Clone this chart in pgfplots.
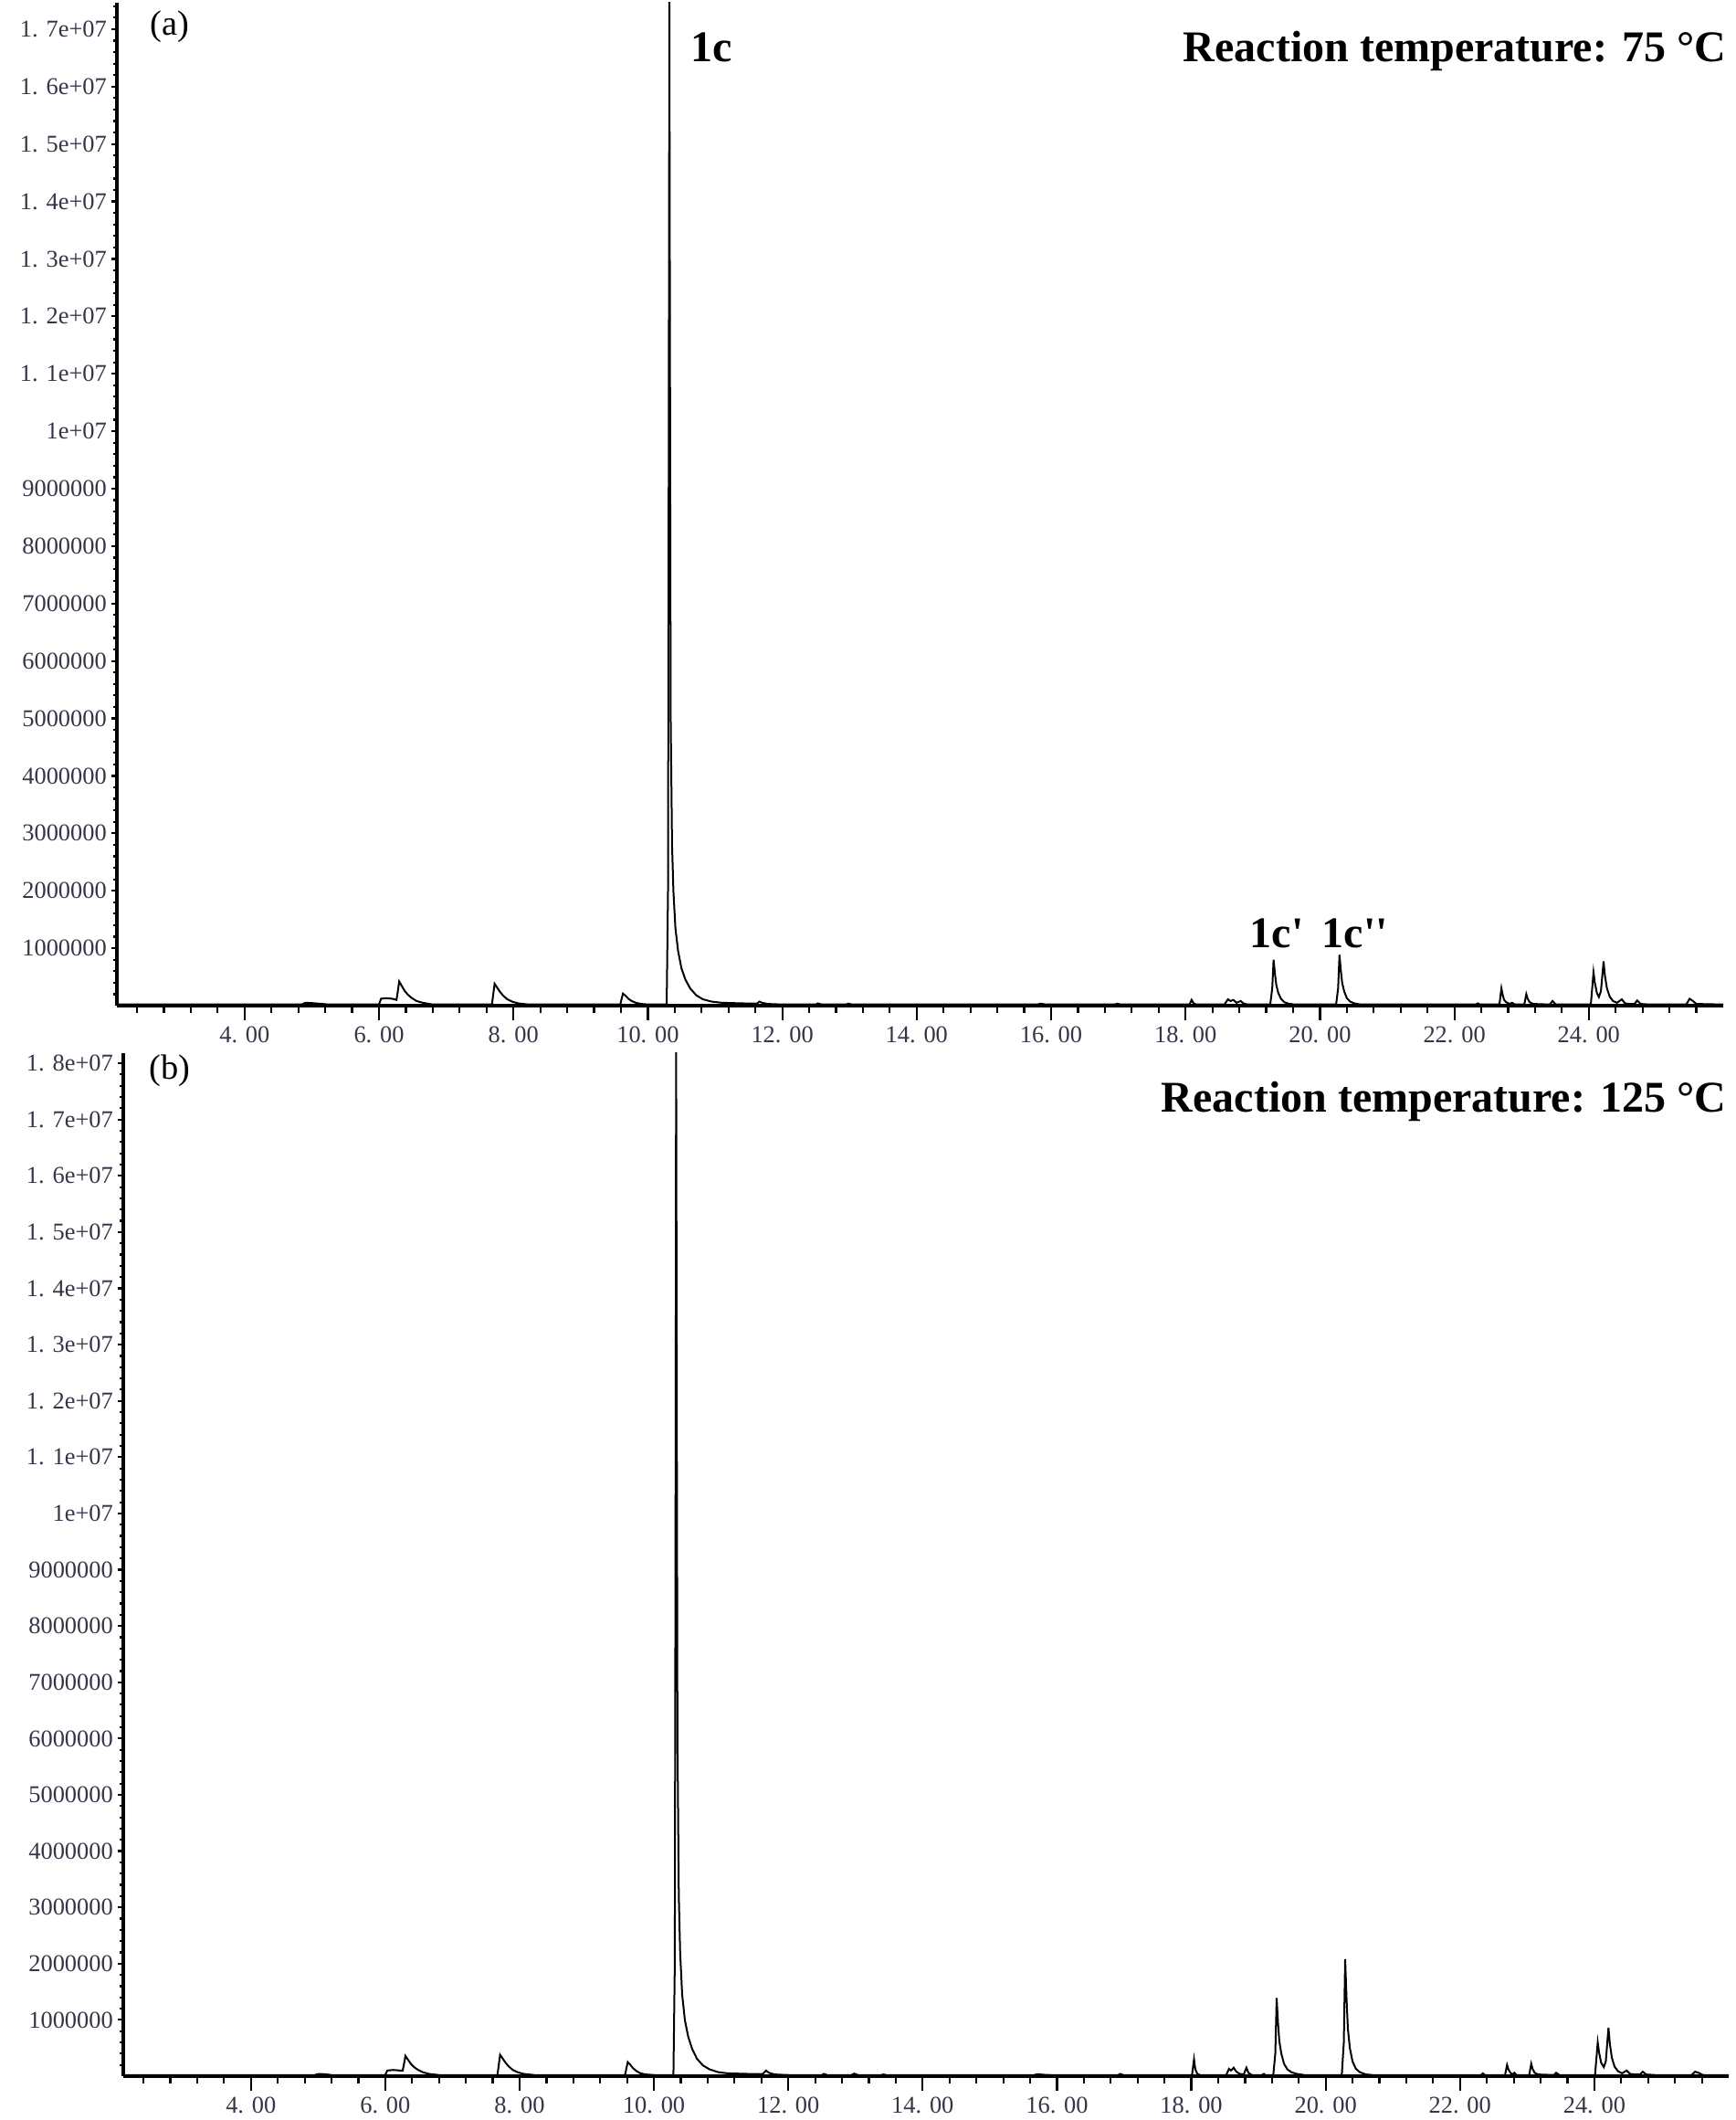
\documentclass[border=0pt]{standalone}
\usepackage{pgfplots}
\pgfplotsset{compat=1.18}
\usepackage{fontspec}
\setmainfont{Liberation Serif}
\definecolor{tickcol}{rgb}{0.22,0.2,0.28}
\newcommand{\tickfont}{\fontsize{6.6}{7.5}\selectfont}
\newcommand{\bigbf}{\bfseries\fontsize{12}{14}\selectfont}
\newcommand{\panelfont}{\fontsize{9.6}{11}\selectfont}

\pgfplotstableread{
x y
2.10 0.02
3.00 0.02
4.00 0.02
4.85 0.02
4.90 0.05
5.00 0.045
5.10 0.035
5.25 0.02
6.00 0.02
6.03 0.12
6.10 0.13
6.20 0.12
6.26 0.10
6.28 0.25
6.30 0.42
6.34 0.34
6.38 0.26
6.43 0.19
6.49 0.13
6.56 0.08
6.65 0.05
6.80 0.02
7.68 0.02
7.70 0.20
7.72 0.38
7.76 0.31
7.80 0.24
7.85 0.17
7.91 0.11
7.98 0.07
8.07 0.04
8.22 0.02
9.59 0.02
9.61 0.12
9.63 0.21
9.67 0.17
9.71 0.12
9.76 0.08
9.82 0.05
9.90 0.03
10.00 0.02
10.28 0.02
10.30 2.0
10.31 9.0
10.32 17.6
10.33 11.0
10.34 5.0
10.36 2.8
10.38 2.0
10.41 1.35
10.45 0.95
10.50 0.65
10.56 0.45
10.63 0.30
10.72 0.18
10.82 0.11
10.95 0.07
11.10 0.05
11.40 0.04
11.62 0.035
11.66 0.07
11.70 0.05
11.78 0.03
12.00 0.02
12.50 0.02
12.53 0.04
12.58 0.02
12.95 0.02
12.98 0.035
13.04 0.02
15.80 0.02
15.84 0.035
15.92 0.02
16.95 0.02
16.98 0.035
17.03 0.02
18.06 0.02
18.09 0.10
18.12 0.04
18.16 0.02
18.58 0.02
18.63 0.11
18.67 0.08
18.71 0.10
18.76 0.05
18.82 0.08
18.86 0.04
18.92 0.02
19.26 0.02
19.29 0.30
19.31 0.80
19.33 0.56
19.35 0.36
19.38 0.22
19.42 0.12
19.47 0.06
19.53 0.035
19.62 0.02
20.24 0.02
20.27 0.30
20.29 0.885
20.31 0.62
20.33 0.40
20.36 0.25
20.40 0.13
20.45 0.07
20.51 0.04
20.60 0.02
22.32 0.02
22.35 0.04
22.38 0.02
22.67 0.02
22.70 0.30
22.72 0.18
22.74 0.10
22.77 0.06
22.82 0.03
22.86 0.05
22.90 0.02
23.04 0.02
23.07 0.20
23.09 0.12
23.12 0.06
23.17 0.03
23.42 0.02
23.46 0.08
23.51 0.02
24.03 0.02
24.07 0.58
24.09 0.40
24.12 0.22
24.15 0.15
24.18 0.25
24.22 0.77
24.24 0.52
24.27 0.30
24.31 0.16
24.36 0.08
24.42 0.05
24.49 0.11
24.54 0.04
24.60 0.03
24.68 0.03
24.72 0.09
24.77 0.03
24.90 0.02
25.45 0.02
25.50 0.12
25.55 0.08
25.60 0.03
26.00 0.02
}\dataA

\pgfplotstableread{
x y
2.10 0.02
4.95 0.02
5.00 0.04
5.10 0.035
5.20 0.02
6.00 0.02
6.03 0.10
6.12 0.11
6.22 0.10
6.26 0.10
6.28 0.22
6.30 0.36
6.34 0.29
6.38 0.22
6.43 0.16
6.49 0.11
6.56 0.07
6.65 0.04
6.80 0.02
7.67 0.02
7.69 0.20
7.71 0.38
7.75 0.31
7.79 0.24
7.84 0.17
7.90 0.11
7.97 0.07
8.06 0.04
8.22 0.02
9.57 0.02
9.59 0.14
9.61 0.25
9.65 0.20
9.69 0.14
9.74 0.09
9.80 0.05
9.88 0.03
10.00 0.02
10.29 0.02
10.31 2.0
10.32 9.0
10.33 18.4
10.34 12.0
10.35 6.0
10.37 3.2
10.39 2.2
10.42 1.45
10.46 1.0
10.51 0.7
10.57 0.48
10.64 0.31
10.73 0.19
10.83 0.12
10.96 0.07
11.10 0.05
11.40 0.04
11.62 0.04
11.67 0.10
11.71 0.06
11.80 0.03
12.00 0.02
12.50 0.02
12.53 0.04
12.58 0.02
12.94 0.02
12.98 0.045
13.04 0.02
13.38 0.02
13.42 0.03
13.46 0.02
15.66 0.02
15.71 0.035
15.80 0.025
15.90 0.02
16.91 0.02
16.94 0.04
16.99 0.02
18.01 0.02
18.04 0.30
18.06 0.12
18.09 0.04
18.13 0.02
18.52 0.02
18.56 0.13
18.59 0.10
18.63 0.15
18.67 0.08
18.72 0.04
18.78 0.03
18.82 0.15
18.85 0.06
18.90 0.02
19.05 0.02
19.08 0.04
19.10 0.02
19.22 0.02
19.25 0.40
19.27 1.39
19.29 0.95
19.31 0.62
19.34 0.40
19.38 0.22
19.43 0.12
19.49 0.07
19.57 0.04
19.68 0.02
20.24 0.02
20.27 0.60
20.29 2.08
20.31 1.40
20.33 0.85
20.36 0.50
20.40 0.26
20.45 0.13
20.51 0.07
20.60 0.03
20.70 0.02
22.31 0.02
22.34 0.05
22.37 0.02
22.67 0.02
22.70 0.20
22.72 0.12
22.75 0.06
22.78 0.03
22.81 0.06
22.84 0.02
23.03 0.02
23.06 0.22
23.08 0.13
23.11 0.06
23.16 0.03
23.40 0.02
23.43 0.06
23.48 0.02
24.01 0.02
24.05 0.60
24.07 0.42
24.10 0.24
24.14 0.16
24.17 0.26
24.21 0.86
24.23 0.58
24.26 0.33
24.30 0.17
24.35 0.09
24.41 0.05
24.48 0.10
24.53 0.04
24.60 0.03
24.68 0.03
24.72 0.08
24.77 0.03
24.90 0.02
25.45 0.02
25.50 0.08
25.55 0.06
25.62 0.02
26.00 0.02
}\dataB

\pgfplotsset{
  gcx/.style={scale only axis, xmin=2.10, xmax=26.0, ymin=0, clip mode=individual,
    axis x line=bottom, axis y line=none, axis line style={-, line width=0.85pt, black},
    tick align=outside, major tick length=4pt, minor tick length=2pt,
    xtick={4,6,8,10,12,14,16,18,20,22,24},
    xticklabels={4. 00,6. 00,8. 00,10. 00,12. 00,14. 00,16. 00,18. 00,20. 00,22. 00,24. 00},
    minor xtick={2.4,2.8,...,25.7},
    every tick/.style={line width=0.55pt, black},
    x tick label style={font=\tickfont, text=tickcol, inner sep=1.5pt},
  },
  gcy/.style={scale only axis, xmin=2.10, xmax=26.0, ymin=0,
    axis x line=none, axis y line=left, axis line style={-, line width=0.85pt, black},
    tick align=outside, major tick length=1.6pt, minor tick length=1.1pt,
    xtick=\empty,
    every tick/.style={line width=0.55pt, black},
    y tick label style={font=\tickfont, text=tickcol, inner xsep=1pt},
  },
}

\begin{document}
\begin{tikzpicture}
\useasboundingbox (0,0) rectangle (475pt,580.25pt);
% ---------------- panel (a)
\begin{axis}[gcx, at={(32pt,305pt)}, anchor=south west, width=439.75pt, height=274.5pt, ymax=17.46]
\addplot[black, line width=0.5pt] table[x=x,y=y] {\dataA};
\node[font=\panelfont] at (axis cs:2.885,17.04) {(a)};
\node[font=\bigbf] at (axis cs:10.95,16.68) {1c};
\node[font=\bigbf, anchor=east, inner sep=0pt] at (axis cs:26.05,16.61) {Reaction temperature: 75 °C};
\node[font=\bigbf] at (axis cs:19.36,1.26) {1c\textquotesingle};
\node[font=\bigbf] at (axis cs:20.52,1.26) {1c\textquotesingle\textquotesingle};
\end{axis}
\begin{axis}[gcy, at={(32pt,305pt)}, anchor=south west, width=439.75pt, height=274.5pt, ymax=17.46,
  ytick={1,2,...,17},
  yticklabels={1000000,2000000,3000000,4000000,5000000,6000000,7000000,8000000,9000000,1e+07,1. 1e+07,1. 2e+07,1. 3e+07,1. 4e+07,1. 5e+07,1. 6e+07,1. 7e+07},
  minor ytick={0.2,0.4,...,17.41}]
\end{axis}
% ---------------- panel (b)
\begin{axis}[gcx, at={(33.75pt,12pt)}, anchor=south west, width=439.5pt, height=280pt, ymax=18.18]
\addplot[black, line width=0.5pt] table[x=x,y=y] {\dataB};
\node[font=\panelfont] at (axis cs:2.79,17.87) {(b)};
\node[font=\bigbf, anchor=east, inner sep=0pt] at (axis cs:25.97,17.32) {Reaction temperature: 125 °C};
\end{axis}
\begin{axis}[gcy, at={(33.75pt,12pt)}, anchor=south west, width=439.5pt, height=280pt, ymax=18.18,
  ytick={1,2,...,18},
  yticklabels={1000000,2000000,3000000,4000000,5000000,6000000,7000000,8000000,9000000,1e+07,1. 1e+07,1. 2e+07,1. 3e+07,1. 4e+07,1. 5e+07,1. 6e+07,1. 7e+07,1. 8e+07},
  minor ytick={0.2,0.4,...,18.1}]
\end{axis}
\end{tikzpicture}
\end{document}
